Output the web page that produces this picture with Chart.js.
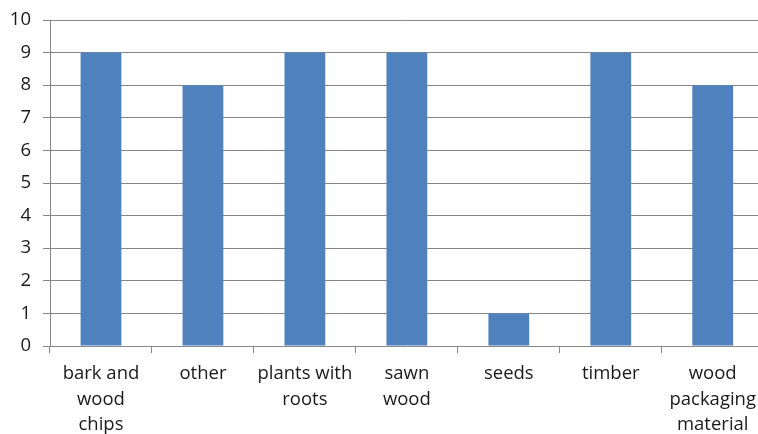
<!DOCTYPE html>
<html>
<head>
<meta charset="utf-8">
<script src="https://cdn.jsdelivr.net/npm/chart.js@4"></script>
<style>
  html, body { margin: 0; padding: 0; background: #fff; overflow: hidden; }
  #wrap { width: 764px; height: 434px; }
</style>
</head>
<body>
<div id="wrap"><canvas id="chart" width="764" height="434"></canvas></div>
<script>
const categories = [
    ['bark and', 'wood', 'chips'],
    ['other'],
    ['plants with', 'roots'],
    ['sawn', 'wood'],
    ['seeds'],
    ['timber'],
    ['wood', 'packaging', 'material']
];
const counts = [9, 8, 9, 9, 1, 9, 8];
const yTicks = [0, 1, 2, 3, 4, 5, 6, 7, 8, 9, 10];

const ctx = document.getElementById('chart').getContext('2d');
new Chart(ctx, {
    type: 'bar',
    data: {
        labels: categories,
        datasets: [{
            data: counts,
            backgroundColor: '#4F81BD',
            borderWidth: 0,
            barPercentage: 0.4,
            categoryPercentage: 1
        }]
    },
    options: {
        responsive: false,
        animation: false,
        layout: { padding: { top: 20, right: 0, left: 0, bottom: 0 } },
        plugins: { legend: { display: false }, tooltip: { enabled: false } },
        scales: {
            x: {
                grid: { drawOnChartArea: false, drawTicks: true, tickLength: 7, color: '#868686' },
                border: { display: false },
                ticks: {
                    color: '#1a1a1a',
                    font: { family: 'Open Sans', size: 18.5, lineHeight: 1.38 },
                    padding: 8,
                    maxRotation: 0,
                    autoSkip: false
                },
                afterFit: function (scale) { scale.height = 88; }
            },
            y: {
                min: 0,
                max: 10,
                afterBuildTicks: function (scale) {
                    scale.ticks = yTicks.map(v => ({ value: v }));
                },
                grid: { color: '#868686', tickLength: 7 },
                border: { color: '#868686' },
                ticks: {
                    color: '#1a1a1a',
                    font: { family: 'Open Sans', size: 18.5 },
                    padding: 12
                },
                afterFit: function (scale) {
                    scale.width = 50;
                    scale.paddingTop = 0;
                    scale.paddingBottom = 0;
                }
            }
        }
    }
});
</script>
</body>
</html>
